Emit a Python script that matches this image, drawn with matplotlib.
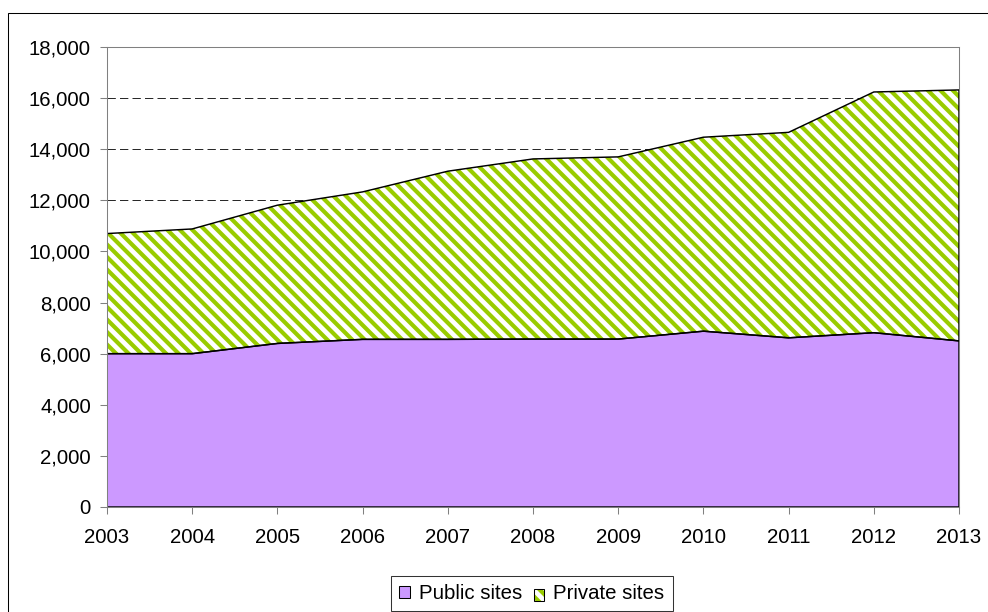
import numpy as np
import matplotlib
matplotlib.use("Agg")
import matplotlib.pyplot as plt
from matplotlib.patches import Rectangle, Patch
from matplotlib.ticker import FuncFormatter

years = [2003, 2004, 2005, 2006, 2007, 2008, 2009, 2010, 2011, 2012, 2013]
public_sites = [6000, 6000, 6400, 6560, 6560, 6570, 6570, 6880, 6620, 6820, 6500]
private_sites = [4700, 4880, 5410, 5770, 6580, 7050, 7130, 7590, 8040, 9420, 9820]
series_names = ['Public sites', 'Private sites']

plt.rcParams['font.family'] = ['Liberation Sans', 'DejaVu Sans']
plt.rcParams['hatch.linewidth'] = 4.0

DPI = 75
fig = plt.figure(figsize=(988 / DPI, 612 / DPI), dpi=DPI)
ax = fig.add_axes([107 / 988, 1 - 507 / 612, (959 - 107) / 988, (507 - 47) / 612])

x = np.array(years)
pub = np.array(public_sites)
tot = pub + np.array(private_sites)

purple = '#CC99FF'
green = '#99CC00'
stripes = '\\\\'

# dashed gridlines sit under the areas
for v in range(2000, 18000, 2000):
    ax.axhline(v, color='black', lw=0.8, ls=(0, (10, 5)), zorder=0)

ax.fill_between(x, 0, pub, facecolor=purple, edgecolor='none', zorder=1)
ax.fill_between(x, pub, tot, facecolor='white', edgecolor=green, hatch=stripes, lw=0, zorder=1)
ax.fill_between(x, 0, pub, facecolor='none', edgecolor='black', lw=1.4, zorder=2)
ax.fill_between(x, pub, tot, facecolor='none', edgecolor='black', lw=1.4, zorder=2)

ax.set_xlim(2003, 2013)
ax.set_ylim(0, 18000)
ax.set_xticks(years)
ax.set_yticks(range(0, 18001, 2000))
ax.yaxis.set_major_formatter(FuncFormatter(lambda v, p: f'{int(v):,}'))

for s in ax.spines.values():
    s.set_color('#808080')
    s.set_linewidth(1.0)
ax.tick_params(axis='both', direction='out', length=6.5, width=1.0, color='#808080',
               labelsize=19.5, labelcolor='black')
ax.tick_params(axis='y', pad=9)
ax.tick_params(axis='x', pad=14)


class HatchBox:
    # hatched square with a black outline (hatch colour follows edgecolor in mpl 3.10)
    def legend_artist(self, legend, orig_handle, fontsize, handlebox):
        x0, y0 = handlebox.xdescent, handlebox.ydescent
        w, h = handlebox.width, handlebox.height
        tr = handlebox.get_transform()
        fill = Rectangle((x0, y0), w, h, facecolor='white', edgecolor=green,
                         hatch=stripes, lw=0, transform=tr)
        edge = Rectangle((x0, y0), w, h, fill=False, edgecolor='black', lw=1.0, transform=tr)
        handlebox.add_artist(fill)
        handlebox.add_artist(edge)
        return edge


pub_handle = Patch(facecolor=purple, edgecolor='black', lw=1.0)
priv_handle = Patch(facecolor='white', edgecolor=green, hatch=stripes)
leg = fig.legend([pub_handle, priv_handle], series_names, loc='upper center',
                 handler_map={priv_handle: HatchBox()},
                 bbox_to_anchor=(532 / 988, 1 - 576 / 612), borderaxespad=0, ncol=2,
                 fontsize=19.5, frameon=True, fancybox=False, shadow=False, borderpad=0.4,
                 handlelength=0.5, handleheight=0.5, handletextpad=0.45, columnspacing=0.6)
leg.get_frame().set_edgecolor('black')
leg.get_frame().set_linewidth(1.0)

# outer chart frame, cut off at the right and bottom
fig.patches.append(Rectangle((8 / 988, -0.05), 1.05, 1 - 13 / 612 + 0.05,
                             transform=fig.transFigure, fill=False,
                             edgecolor='black', lw=1.0))

fig.savefig('out.png', dpi=DPI)
